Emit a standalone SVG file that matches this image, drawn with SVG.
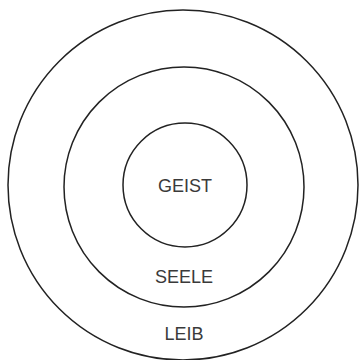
<svg xmlns="http://www.w3.org/2000/svg" width="360" height="360" viewBox="0 0 360 360">
<style>
.c{fill:none;stroke:#222;stroke-width:1.5}
.t{font-family:"Liberation Sans",Arial,sans-serif;font-size:18px;fill:#3a3a3a;text-anchor:middle}
</style>
<rect width="360" height="360" fill="#fff"/>
<g id="leib"><circle class="c" cx="183" cy="185" r="175"/><text class="t" x="184" y="340">LEIB</text></g>
<g id="seele"><circle class="c" cx="184" cy="187" r="120"/><text class="t" x="184" y="283">SEELE</text></g>
<g id="geist"><circle class="c" cx="185" cy="185" r="62"/><text class="t" x="185" y="192">GEIST</text></g>
<g id="connectors"/>
</svg>
